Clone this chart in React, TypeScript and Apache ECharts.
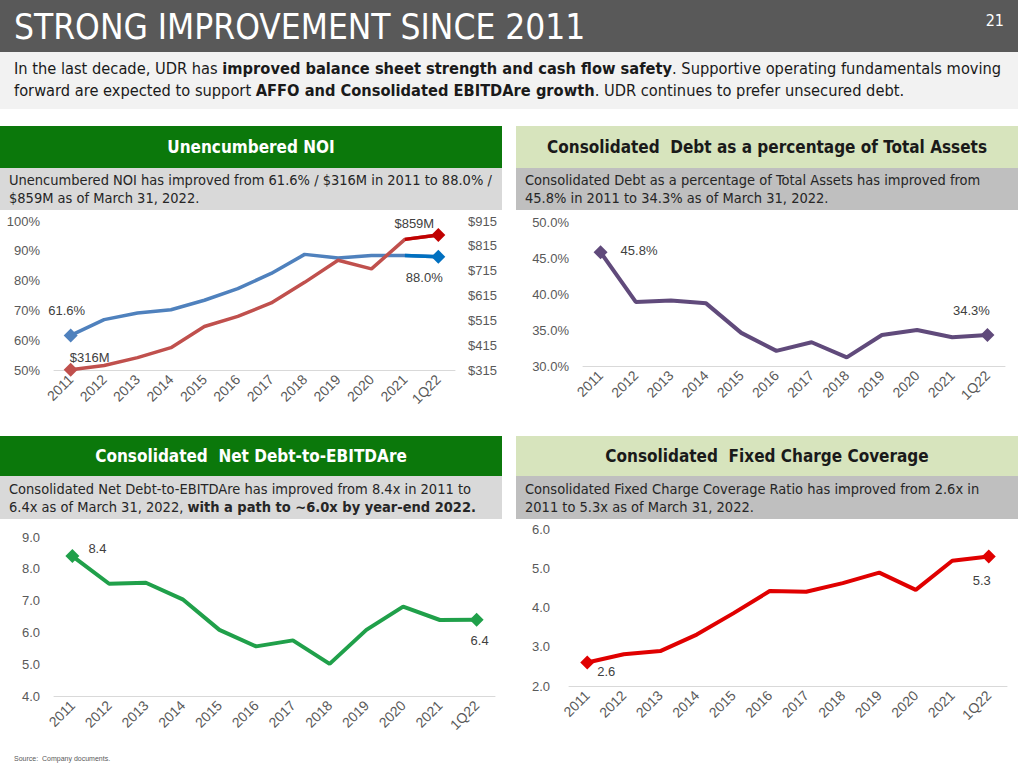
import React, { useEffect, useRef } from "react";
import * as echarts from "echarts";

const categories = ["2011", "2012", "2013", "2014", "2015", "2016", "2017", "2018", "2019", "2020", "2021", "1Q22"];
const noiPct = [61.6, 66.9, 69.1, 70.2, 73.4, 77.3, 82.4, 88.8, 87.6, 88.4, 88.4, 88.0];
const noiUsd = [316, 333, 365, 405, 490, 531, 585, 668, 757, 722, 841, 859];
const debtPct = [45.8, 38.9, 39.1, 38.7, 34.6, 32.1, 33.3, 31.2, 34.3, 35.0, 34.0, 34.3];
const netDebt = [8.4, 7.53, 7.56, 7.04, 6.08, 5.56, 5.75, 5.01, 6.08, 6.81, 6.39, 6.4];
const fixedCharge = [2.6, 2.81, 2.89, 3.31, 3.85, 4.42, 4.4, 4.62, 4.89, 4.45, 5.19, 5.3];
const usdTicks = [315, 415, 515, 615, 715, 815, 915];

const NARROW = "'Liberation Sans Narrow', 'Arial Narrow', 'DejaVu Sans Condensed', sans-serif";
const SANS = "'Liberation Sans', Arial, sans-serif";
const LABEL_COLOR = "#595959";

type EndLabel = { pos: string; offset: number[]; text: string };

function lineData(values: number[], color: string, first: EndLabel | null, last: EndLabel | null, from = 0) {
  const n = values.length;
  return values.map((v, i) => {
    if (i < from) return null;
    const end = i === 0 ? first : i === n - 1 ? last : null;
    if (!end) return { value: v, symbol: "none" };
    return {
      value: v,
      symbol: "diamond",
      symbolSize: 14,
      itemStyle: { color },
      label: {
        show: true,
        position: end.pos,
        offset: end.offset,
        formatter: end.text,
        color: "#404040",
        fontSize: 13,
        fontFamily: SANS,
      },
    };
  });
}

function xAxis(gridIndex: number) {
  return {
    type: "category",
    gridIndex,
    data: categories,
    boundaryGap: true,
    axisLine: { lineStyle: { color: "#d9d9d9", width: 1 } },
    axisTick: { show: false },
    axisLabel: { rotate: 45, interval: 0, color: LABEL_COLOR, fontSize: 14, fontFamily: SANS, margin: 7 },
  };
}

function yAxis(gridIndex: number, min: number, max: number, interval: number, fmt: (v: number) => string, margin = 14) {
  return {
    type: "value",
    gridIndex,
    min,
    max,
    interval,
    axisLine: { show: false },
    axisTick: { show: false },
    splitLine: { show: false },
    axisLabel: { color: LABEL_COLOR, fontSize: 13, fontFamily: SANS, margin, formatter: fmt },
  };
}

function panel(x: number, y: number, w: number, hh: number, sh: number, headBg: string, headColor: string, title: string, subBg: string, sub: string) {
  return [
    { type: "rect", shape: { x, y, width: w, height: hh }, style: { fill: headBg }, silent: true },
    {
      type: "text",
      x: x + w / 2,
      y: y + hh / 2,
      style: { text: title, fill: headColor, font: `bold 17px ${NARROW}`, align: "center", verticalAlign: "middle" },
    },
    { type: "rect", shape: { x, y: y + hh, width: w, height: sh }, style: { fill: subBg }, silent: true },
    {
      type: "text",
      x: x + 9,
      y: y + hh + sh / 2,
      style: {
        text: sub,
        fill: "#262626",
        font: `14.5px ${NARROW}`,
        lineHeight: 18,
        align: "left",
        verticalAlign: "middle",
        rich: { b: { fontWeight: "bold", fontSize: 14.5, fontFamily: NARROW, fill: "#262626", lineHeight: 18 } },
      },
    },
  ];
}

export default function App() {
  const ref = useRef<HTMLDivElement>(null);
  useEffect(() => {
    if (!ref.current) return;
    const chart = echarts.init(ref.current, undefined, { renderer: "svg" });
    const graphic: any[] = [
      { type: "rect", shape: { x: 0, y: 0, width: 1018, height: 52 }, style: { fill: "#595959" }, silent: true },
      {
        type: "text",
        x: 14,
        y: 27,
        style: { text: "STRONG IMPROVEMENT SINCE 2011", fill: "#ffffff", font: `35px ${NARROW}`, verticalAlign: "middle" },
      },
      { type: "text", x: 1004, y: 20, style: { text: "21", fill: "#ffffff", font: `16px ${NARROW}`, align: "right", verticalAlign: "middle" } },
      { type: "rect", shape: { x: 0, y: 52, width: 1018, height: 57 }, style: { fill: "#f2f2f2" }, silent: true },
      {
        type: "text",
        x: 14,
        y: 79,
        style: {
          text:
            "{n|In the last decade, UDR has }{b|improved balance sheet strength and cash flow safety}{n|. Supportive operating fundamentals moving}\n{n|forward are expected to support }{b|AFFO and Consolidated EBITDAre growth}{n|. UDR continues to prefer unsecured debt.}",
          verticalAlign: "middle",
          rich: {
            n: { fontSize: 16.3, fontFamily: NARROW, fill: "#1a1a1a", lineHeight: 22 },
            b: { fontSize: 16.3, fontFamily: NARROW, fontWeight: "bold", fill: "#1a1a1a", lineHeight: 22 },
          },
        },
      },
      ...panel(0, 126, 502, 42, 42, "#0b780b", "#ffffff", "Unencumbered NOI", "#d9d9d9",
        "Unencumbered NOI has improved from 61.6% / $316M in 2011 to 88.0% /\n$859M as of March 31, 2022."),
      ...panel(516, 126, 502, 42, 42, "#d7e4bd", "#1a1a1a", "Consolidated  Debt as a percentage of Total Assets", "#bfbfbf",
        "Consolidated Debt as a percentage of Total Assets has improved from\n45.8% in 2011 to 34.3% as of March 31, 2022."),
      ...panel(0, 436, 502, 40, 43, "#0b780b", "#ffffff", "Consolidated  Net Debt-to-EBITDAre", "#d9d9d9",
        "Consolidated Net Debt-to-EBITDAre has improved from 8.4x in 2011 to\n6.4x as of March 31, 2022, {b|with a path to ~6.0x by year-end 2022.}"),
      ...panel(516, 436, 502, 40, 43, "#d7e4bd", "#1a1a1a", "Consolidated  Fixed Charge Coverage", "#bfbfbf",
        "Consolidated Fixed Charge Coverage Ratio has improved from 2.6x in\n2011 to 5.3x as of March 31, 2022."),
      { type: "text", x: 14, y: 758, style: { text: "Source:  Company documents.", fill: "#595959", font: `7px ${SANS}`, verticalAlign: "middle" } },
    ];

    const option: any = {
      animation: false,
      backgroundColor: "#ffffff",
      graphic,
      grid: [
        { left: 54, top: 221, width: 401, height: 149 },
        { left: 583, top: 222, width: 422, height: 144 },
        { left: 54, top: 537, width: 441, height: 159 },
        { left: 569, top: 529, width: 438, height: 157 },
      ],
      xAxis: [xAxis(0), xAxis(1), xAxis(2), xAxis(3)],
      yAxis: [
        yAxis(0, 50, 100, 10, (v) => `${v}%`),
        {
          type: "value",
          gridIndex: 0,
          position: "right",
          min: usdTicks[0],
          max: usdTicks[usdTicks.length - 1],
          axisLine: { show: false },
          axisTick: { show: false },
          splitLine: { show: false },
          axisLabel: {
            color: LABEL_COLOR,
            fontSize: 13,
            fontFamily: SANS,
            margin: 13,
            customValues: usdTicks,
            formatter: (v: number) => `$${v}`,
          },
        },
        yAxis(1, 30, 50, 5, (v) => `${v.toFixed(1)}%`),
        yAxis(2, 4, 9, 1, (v) => v.toFixed(1)),
        yAxis(3, 2, 6, 1, (v) => v.toFixed(1), 19),
      ],
      series: [
        {
          type: "line",
          xAxisIndex: 0,
          yAxisIndex: 0,
          z: 2,
          lineStyle: { color: "#4f81bd", width: 3.5 },
          itemStyle: { color: "#4f81bd" },
          data: lineData(noiPct, "#4f81bd", { pos: "top", offset: [-4, -6], text: "61.6%" }, null),
        },
        {
          type: "line",
          xAxisIndex: 0,
          yAxisIndex: 1,
          z: 3,
          lineStyle: { color: "#c0504d", width: 3.5 },
          itemStyle: { color: "#c0504d" },
          data: lineData(noiUsd, "#c0504d", { pos: "top", offset: [19, 6], text: "$316M" }, null),
        },
        {
          type: "line",
          xAxisIndex: 0,
          yAxisIndex: 0,
          z: 4,
          lineStyle: { color: "#0070c0", width: 3.5 },
          itemStyle: { color: "#0070c0" },
          data: lineData(noiPct, "#0070c0", null, { pos: "bottom", offset: [-14, 2], text: "88.0%" }, 10),
        },
        {
          type: "line",
          xAxisIndex: 0,
          yAxisIndex: 1,
          z: 5,
          lineStyle: { color: "#c00000", width: 3.5 },
          itemStyle: { color: "#c00000" },
          data: lineData(noiUsd, "#c00000", null, { pos: "top", offset: [-24, 7], text: "$859M" }, 10),
        },
        {
          type: "line",
          xAxisIndex: 1,
          yAxisIndex: 2,
          lineStyle: { color: "#604a7b", width: 4 },
          itemStyle: { color: "#604a7b" },
          data: lineData(debtPct, "#604a7b", { pos: "right", offset: [8, -2], text: "45.8%" }, { pos: "top", offset: [-16, -6], text: "34.3%" }),
        },
        {
          type: "line",
          xAxisIndex: 2,
          yAxisIndex: 3,
          lineStyle: { color: "#20a04a", width: 4 },
          itemStyle: { color: "#20a04a" },
          data: lineData(netDebt, "#20a04a", { pos: "right", offset: [4, -8], text: "8.4" }, { pos: "bottom", offset: [3, 2], text: "6.4" }),
        },
        {
          type: "line",
          xAxisIndex: 3,
          yAxisIndex: 4,
          lineStyle: { color: "#e00000", width: 4 },
          itemStyle: { color: "#e00000" },
          data: lineData(fixedCharge, "#e00000", { pos: "right", offset: [-2, 9], text: "2.6" }, { pos: "bottom", offset: [-7, 6], text: "5.3" }),
        },
      ],
    };
    chart.setOption(option);
    return () => chart.dispose();
  }, []);
  return <div ref={ref} style={{ position: "absolute", left: 0, top: 0, width: 1018, height: 768 }} />;
}
